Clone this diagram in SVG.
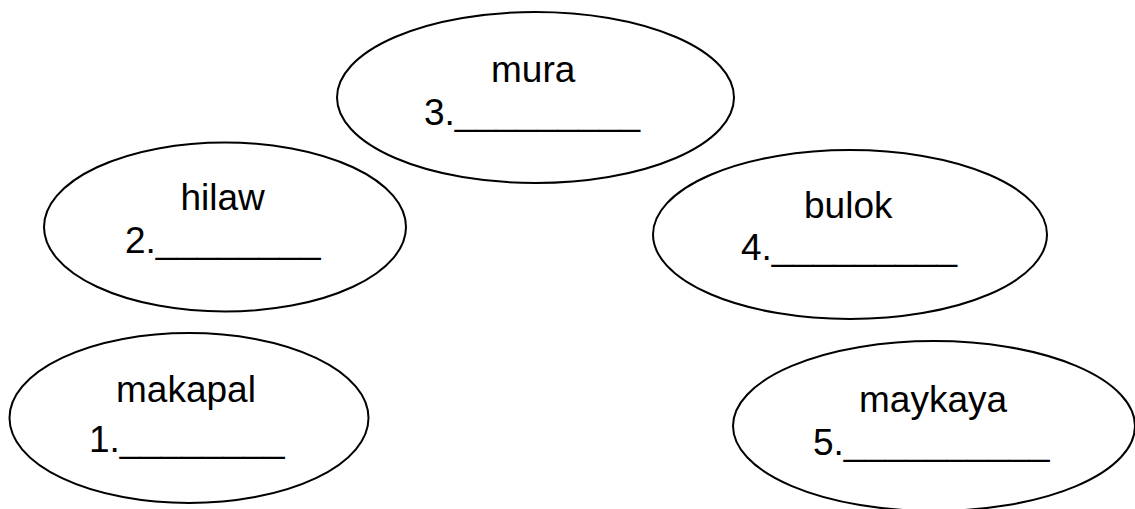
<svg xmlns="http://www.w3.org/2000/svg" width="1135" height="509" viewBox="0 0 1135 509">
<style>
.n ellipse{fill:#fff;stroke:#000;stroke-width:2}
.n text{font-family:"Liberation Sans",Arial,sans-serif;font-size:37px;fill:#000}
</style>
<rect width="1135" height="509" fill="#fff"/>
<g id="connectors"></g>
<g id="node-mura" class="n">
<ellipse cx="535.5" cy="97.5" rx="198.5" ry="85.5"/>
<text x="491" y="82">mura</text>
<text x="424" y="125">3._________</text>
</g>
<g id="node-hilaw" class="n">
<ellipse cx="225" cy="227" rx="181" ry="84.5"/>
<text x="180.5" y="210">hilaw</text>
<text x="125" y="253">2.________</text>
</g>
<g id="node-bulok" class="n">
<ellipse cx="850" cy="234.5" rx="197" ry="84.5"/>
<text x="804" y="218">bulok</text>
<text x="741" y="260">4._________</text>
</g>
<g id="node-makapal" class="n">
<ellipse cx="189" cy="418" rx="179.5" ry="85"/>
<text x="116" y="402">makapal</text>
<text x="89" y="452">1.________</text>
</g>
<g id="node-maykaya" class="n">
<ellipse cx="934" cy="426" rx="201" ry="85"/>
<text x="859" y="412">maykaya</text>
<text x="813" y="455">5.__________</text>
</g>
</svg>
